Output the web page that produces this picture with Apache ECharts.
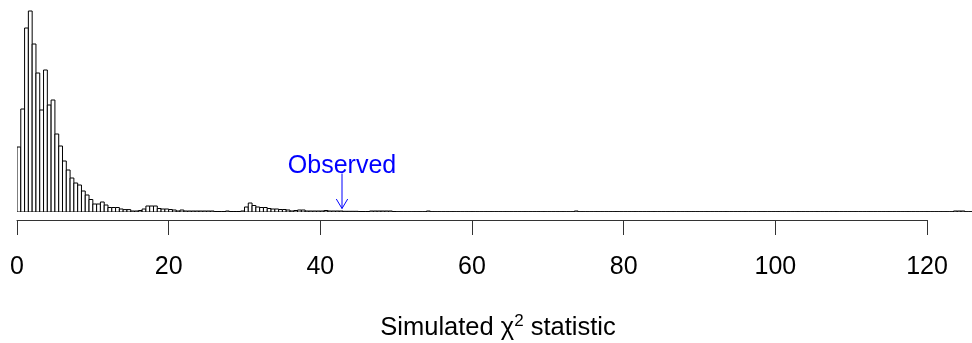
<!DOCTYPE html>
<html><head><meta charset="utf-8">
<script src="https://cdn.jsdelivr.net/npm/echarts@6/dist/echarts.min.js"></script>
<style>html,body{margin:0;padding:0;background:#fff}#c{width:972px;height:343px}</style>
</head><body><div id="c"></div>
<script>
// Histogram of simulated chi-square statistics, bin width 0.5
const binWidth = 0.5;
const counts = [
  65,103,184,201,168,139,102,142,107,112,
  78,66,51,42,34,29,27,21,17,12.5,
  8,8,10,7,4.5,4.5,4.5,3,2.4,2.4,
  1,1,1.5,3,6,6,6,3.5,3,3,
  2.5,2,1,2,1,1,1,1,1,1,
  1,1,0.5,0.5,0.5,1,0.5,0.5,0.5,1,
  5,9,6.5,5,4.5,4.5,3.5,3,3,2.5,
  2.5,2,1,1.5,2,2,1,1,1,1,
  1,1.5,1,1,1,1,0.7,0.7,0.7,0.7,
  0.5,0.5,0.5,1,1,1,1,1,1,0.5,
  0.3,0.3,0.3,0.3,0.3,0.3,0.3,0.3,1,0.3,
  0.3,0.3,0.3,0.3,0.3,0.3,0.3,0.3,0.3,0.3,
  0.3,0.3,0.3,0.3,0.3,0.3,0.3,0.3,0.3,0.3,
  0.3,0.3,0.3,0.3,0.3,0.3,0.3,0.3,0.3,0.3,
  0.3,0.3,0.3,0.3,0.3,0.3,0.3,1,0.3,0.3,
  0.3,0.3,0.3,0.3,0.3,0.3,0.3,0.3,0.3,0.3,
  0.3,0.3,0.3,0.3,0.3,0.3,0.3,0.3,0.3,0.3,
  0.3,0.3,0.3,0.3,0.3,0.3,0.3,0.3,0.3,0.3,
  0.3,0.3,0.3,0.3,0.3,0.3,0.3,0.3,0.3,0.3,
  0.3,0.3,0.3,0.3,0.3,0.3,0.3,0.3,0.3,0.3,
  0.3,0.3,0.3,0.3,0.3,0.3,0.3,0.3,0.3,0.3,
  0.3,0.3,0.3,0.3,0.3,0.3,0.3,0.3,0.3,0.3,
  0.3,0.3,0.3,0.3,0.3,0.3,0.3,0.3,0.3,0.3,
  0.3,0.3,0.3,0.3,0.3,0.3,0.3,0.3,0.3,0.3,
  0.3,0.3,0.3,0.3,0.3,0.3,0.3,1,1,1,
  0.3,0.3
];
const observed = 42.86;
const observedLabel = 'Observed';
const xTicks = [0, 20, 40, 60, 80, 100, 120];
const xTitle = ['Simulated χ', '2', ' statistic'];

const FONT = '"Liberation Sans", Arial, Helvetica, sans-serif';
const histData = counts.map((c, i) => [i * binWidth, (i + 1) * binWidth, c]);

const chart = echarts.init(document.getElementById('c'), null, {renderer: 'canvas'});
chart.setOption({
  animation: false,
  grid: [
    {left: 17, right: 0, top: 0, bottom: 131},
    {left: 17, width: 910, top: 200, height: 20}
  ],
  xAxis: [
    {gridIndex: 0, type: 'value', min: 0, max: 125.94, show: false},
    {
      gridIndex: 1, type: 'value',
      min: xTicks[0], max: xTicks[xTicks.length - 1], interval: xTicks[1] - xTicks[0],
      axisLine: {show: true, lineStyle: {color: '#333', width: 1}},
      axisTick: {show: true, length: 15, lineStyle: {color: '#333', width: 1}},
      axisLabel: {margin: 35, fontSize: 25, color: '#000', fontFamily: FONT},
      splitLine: {show: false},
      name: '{t|' + xTitle[0] + '}{s|' + xTitle[1] + '}{t|' + xTitle[2] + '}',
      nameLocation: 'middle',
      nameGap: 93,
      nameTextStyle: {
        padding: [0, 0, 0, 52],
        rich: {
          t: {fontSize: 25.5, fontFamily: FONT, color: '#000', lineHeight: 30},
          s: {fontSize: 17, fontFamily: FONT, color: '#000', lineHeight: 24, verticalAlign: 'top'}
        }
      }
    }
  ],
  yAxis: [
    {gridIndex: 0, type: 'value', min: 0, max: 212, show: false},
    {gridIndex: 1, type: 'value', show: false}
  ],
  series: [
    {
      type: 'custom', xAxisIndex: 0, yAxisIndex: 0, clip: true,
      data: histData,
      renderItem: function (params, api) {
        const p0 = api.coord([api.value(0), 0]);
        const p1 = api.coord([api.value(1), api.value(2)]);
        return {
          type: 'rect',
          shape: {x: p0[0], y: p1[1], width: p1[0] - p0[0], height: p0[1] - p1[1]},
          style: {fill: '#fff', stroke: '#000', lineWidth: 1}
        };
      }
    },
    {
      type: 'custom', xAxisIndex: 0, yAxisIndex: 0,
      data: [[observed]],
      renderItem: function (params, api) {
        const p = api.coord([api.value(0), 0]);
        const x = p[0], tip = p[1] - 3.5, tail = p[1] - 38.5;
        return {
          type: 'group',
          children: [
            {type: 'line', shape: {x1: x, y1: tail, x2: x, y2: tip}, style: {stroke: '#0000ff', lineWidth: 1}},
            {type: 'polyline', shape: {points: [[x - 5.7, tip - 9.5], [x, tip], [x + 5.7, tip - 9.5]]}, style: {stroke: '#0000ff', lineWidth: 1, fill: null}},
            {type: 'text', style: {text: observedLabel, x: x, y: p[1] - 46, align: 'center', verticalAlign: 'middle', fontSize: 25, fontFamily: FONT, fill: '#0000ff'}}
          ]
        };
      }
    }
  ]
});
</script>
</body></html>
